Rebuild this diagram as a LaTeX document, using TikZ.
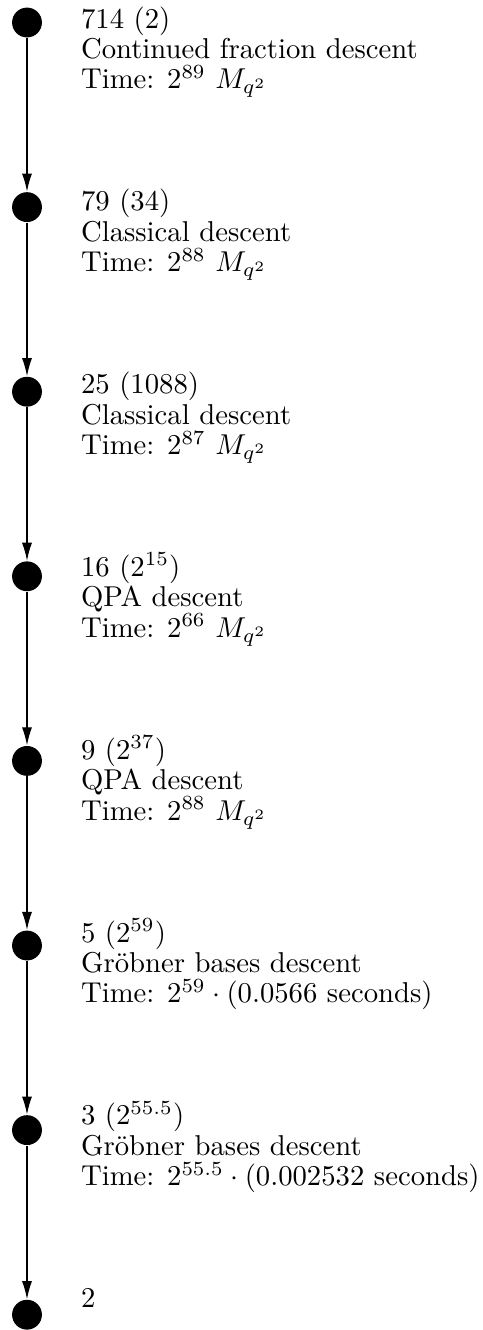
\documentclass[tikz,border=0pt]{standalone}
\usetikzlibrary{arrows.meta}
\begin{document}
\begin{tikzpicture}[x=0.3484pt,y=-0.3484pt,
  dot/.style={circle,fill=black,inner sep=0pt,minimum size=10.4pt},
  info/.style={anchor=base west,inner sep=0pt},
  flow/.style={-{Latex[length=6.3pt,width=3.5pt]},line width=0.45pt}]
\useasboundingbox (0,0) rectangle (483,1330);
% three-line captions with a slightly tight leading
\def\lines#1{\begin{tabular}[t]{@{}l@{}}#1\end{tabular}}
\def\nl{\\[-1.4pt]}
\foreach \i/\t in {%
  1/{714 (2)\nl Continued fraction descent\nl Time: $2^{89}$ $M_{q^2}$},
  2/{79 (34)\nl Classical descent\nl Time: $2^{88}$ $M_{q^2}$},
  3/{25 (1088)\nl Classical descent\nl Time: $2^{87}$ $M_{q^2}$},
  4/{16 ($2^{15}$)\nl QPA descent\nl Time: $2^{66}$ $M_{q^2}$},
  5/{9 ($2^{37}$)\nl QPA descent\nl Time: $2^{88}$ $M_{q^2}$},
  6/{5 ($2^{59}$)\nl Gr\"obner bases descent\nl Time: $2^{59}\cdot(0.0566$ seconds)},
  7/{3 ($2^{55.5}$)\nl Gr\"obner bases descent\nl Time: $2^{55.5}\cdot(0.002532$ seconds)},
  8/{2}} {
  \node[dot] (n\i) at (27,{22.5+184.6*(\i-1)}) {};
  \node[info] (t\i) at (80.5,{28+182.8*(\i-1)}) {\lines{\t}};
}
\foreach \a/\b in {1/2,2/3,3/4,4/5,5/6,6/7,7/8}
  \draw[flow] (n\a) -- (n\b);
\end{tikzpicture}
\end{document}
